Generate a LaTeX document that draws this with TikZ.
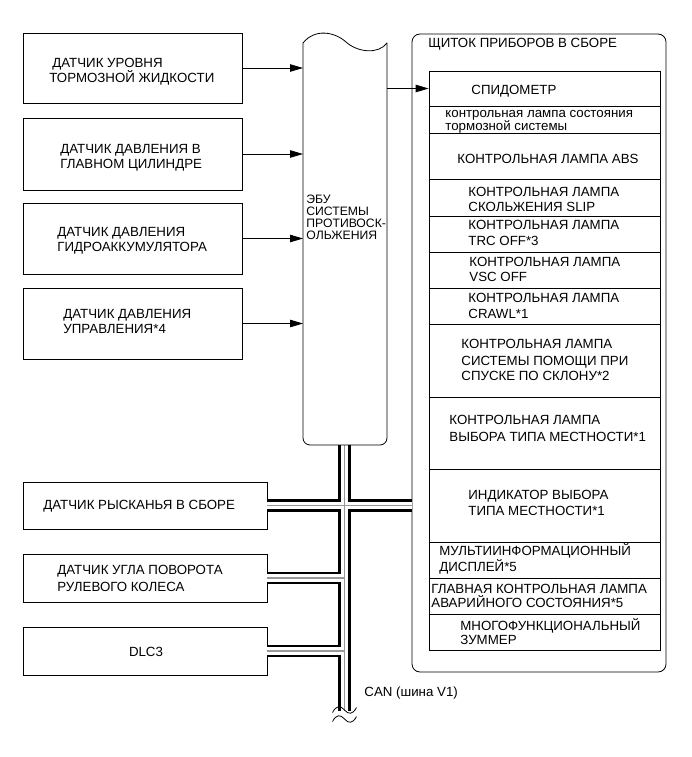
\documentclass[tikz,border=0pt]{standalone}
\usepackage{fontspec}
\setmainfont{Liberation Sans}
\usetikzlibrary{arrows.meta}
\begin{document}
\begin{tikzpicture}[x=1pt,y=-1pt,line width=0.8pt,
  box/.style={draw,rectangle,inner sep=0pt},
  row/.style={draw,rectangle,inner sep=0pt,minimum width=231pt},
  txt/.style={anchor=base west,align=left,inner sep=0pt,font=\fontsize{13.3}{#1}\selectfont},
  txt/.default=15.3,
  arr/.style={-{Triangle[length=13pt,width=7.5pt]}},
  busblack/.style={line width=12.5pt,black},
  buswhite/.style={line width=7.2pt,white},
  busgray/.style={line width=1.2pt,black!40},
]
\useasboundingbox (0,0) rectangle (691,757);

% sensor boxes
\node[box,minimum width=219pt,minimum height=70pt] (b1) at (132.5,68) {};
\node[box,minimum width=219pt,minimum height=72pt] (b2) at (132.5,154) {};
\node[box,minimum width=219pt,minimum height=71pt] (b3) at (132.5,238.5) {};
\node[box,minimum width=219pt,minimum height=71pt] (b4) at (132.5,323.5) {};
\node[box,minimum width=244pt,minimum height=47pt] (b5) at (145,505.5) {};
\node[box,minimum width=244pt,minimum height=48pt] (b6) at (145,578) {};
\node[box,minimum width=244pt,minimum height=48pt] (b7) at (145,651) {};

% ECU (outline drawn below)
\node[inner sep=0pt,outer sep=0pt,minimum width=84pt,minimum height=402pt] (ecu) at (345,244) {};

% instrument cluster
\node[draw,rounded corners=8pt,inner sep=0pt,minimum width=254pt,minimum height=638pt] (cl) at (539,353) {};
\node[row,minimum height=35pt] (r1) at (544.5,88.5) {};
\node[row,minimum height=27pt] (r2) at (544.5,119.5) {};
\node[row,minimum height=46pt] (r3) at (544.5,156) {};
\node[row,minimum height=37pt] (r4) at (544.5,197.5) {};
\node[row,minimum height=36pt] (r5) at (544.5,234) {};
\node[row,minimum height=36pt] (r6) at (544.5,270) {};
\node[row,minimum height=36pt] (r7) at (544.5,306) {};
\node[row,minimum height=73pt] (r8) at (544.5,360.5) {};
\node[row,minimum height=72pt] (r9) at (544.5,433) {};
\node[row,minimum height=73pt] (r10) at (544.5,505.5) {};
\node[row,minimum height=36pt] (r11) at (544.5,560) {};
\node[row,minimum height=36pt] (r12) at (544.5,596) {};
\node[row,minimum height=36pt] (r13) at (544.5,632) {};

% CAN bus
\coordinate (w) at (344.5,711);
\foreach \s in {busblack,buswhite,busgray}{
  \draw[\s] (ecu.south -| w) -- (w);
  \draw[\s] (b5.east) -- (b5.east -| cl.west);
  \draw[\s] (b6.east) -- (b6.east -| w);
  \draw[\s] (b7.east) -- (b7.east -| w);
}
\draw (332.5,712.5) .. controls (336.5,705) and (340.5,705.5) .. (344.5,710) .. controls (348.5,714.5) and (352.5,715) .. (356.5,707.5);
\draw (332.5,721.5) .. controls (336.5,714) and (340.5,714.5) .. (344.5,719) .. controls (348.5,723.5) and (352.5,724) .. (356.5,716.5);

% ECU outline
\draw (303,43) .. controls (315,28) and (335,32) .. (346,42) .. controls (357,52) and (378,55) .. (387,43);
\draw[rounded corners=7pt] (387,43) -- (387,445) -- (303,445) -- (303,43);

% arrows
\foreach \b in {b1,b2,b3,b4} \draw[arr] (\b.east) -- (\b.east -| ecu.west);
\draw[arr] (r1.west -| ecu.east) -- (r1.west);

% texts (anchor = baseline of the last line)
\node[txt=15] (t1) at (49,82.3) {\hspace*{3pt}ДАТЧИК УРОВНЯ\\ТОРМОЗНОЙ ЖИДКОСТИ};
\node[txt=15.5] (t2) at (60,168.6) {ДАТЧИК ДАВЛЕНИЯ В\\ГЛАВНОМ ЦИЛИНДРЕ};
\node[txt=14.9] (t3) at (57,251) {ДАТЧИК ДАВЛЕНИЯ\\ГИДРОАККУМУЛЯТОРА};
\node[txt=14.7] (t4) at (63,333.2) {ДАТЧИК ДАВЛЕНИЯ\\УПРАВЛЕНИЯ*4};
\node[txt] (t5) at (43,509.8) {ДАТЧИК РЫСКАНЬЯ В СБОРЕ};
\node[txt=16.7] (t6) at (57,591.5) {ДАТЧИК УГЛА ПОВОРОТА\\РУЛЕВОГО КОЛЕСА};
\node[txt,anchor=base] (t7) at (146,656.5) {DLC3};
\node[txt,font=\fontsize{12.2}{12}\selectfont] (te) at (306,239.3) {ЭБУ\\СИСТЕМЫ\\ПРОТИВОСК-\\ОЛЬЖЕНИЯ};
\node[txt] (tc) at (428,47.8) {ЩИТОК ПРИБОРОВ В СБОРЕ};
\node[txt] (tcan) at (364,696.5) {CAN (шина V1)};

\node[txt] (s1) at (471,94.8) {СПИДОМЕТР};
\node[txt=11] (s2) at (445,130.8) {контрольная лампа состояния\\тормозной системы};
\node[txt] (s3) at (457,163.1) {КОНТРОЛЬНАЯ ЛАМПА ABS};
\node[txt] (s4) at (468,211.4) {КОНТРОЛЬНАЯ ЛАМПА\\СКОЛЬЖЕНИЯ SLIP};
\node[txt=15.5] (s5) at (468,245.3) {КОНТРОЛЬНАЯ ЛАМПА\\TRC OFF*3};
\node[txt=15.7] (s6) at (469,281.8) {КОНТРОЛЬНАЯ ЛАМПА\\VSC OFF};
\node[txt=15.6] (s7) at (468,318.1) {КОНТРОЛЬНАЯ ЛАМПА\\CRAWL*1};
\node[txt=15.4] (s8) at (461,380.5) {КОНТРОЛЬНАЯ ЛАМПА\\[1.6pt]СИСТЕМЫ ПОМОЩИ ПРИ\\СПУСКЕ ПО СКЛОНУ*2};
\node[txt=16.2] (s9) at (449,441) {КОНТРОЛЬНАЯ ЛАМПА\\ВЫБОРА ТИПА МЕСТНОСТИ*1};
\node[txt=15.8] (s10) at (468,515.6) {ИНДИКАТОР ВЫБОРА\\ТИПА МЕСТНОСТИ*1};
\node[txt=13.7] (s11) at (439,571) {МУЛЬТИИНФОРМАЦИОННЫЙ\\ДИСПЛЕЙ*5};
\node[txt=14.1] (s12) at (431,607.6) {ГЛАВНАЯ КОНТРОЛЬНАЯ ЛАМПА\\АВАРИЙНОГО СОСТОЯНИЯ*5};
\node[txt=14.2] (s13) at (460,644.8) {МНОГОФУНКЦИОНАЛЬНЫЙ\\ЗУММЕР};
\end{tikzpicture}
\end{document}
